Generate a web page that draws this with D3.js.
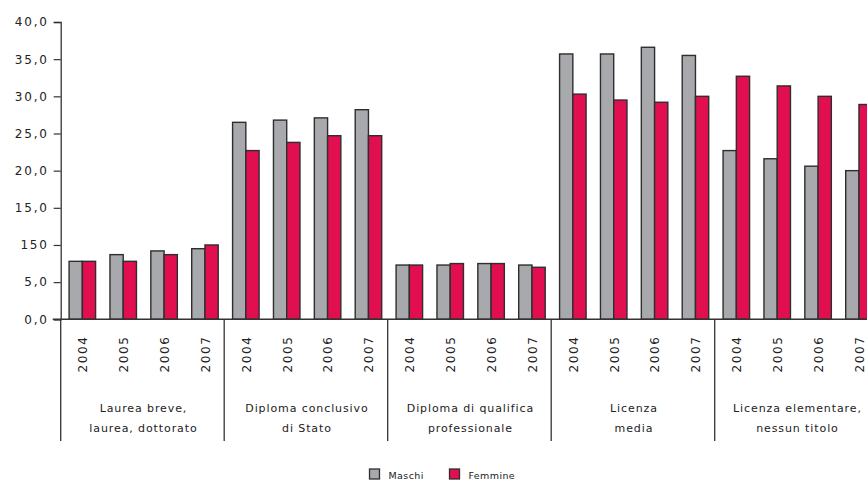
<!DOCTYPE html>
<html>
<head>
<meta charset="utf-8">
<script src="https://cdn.jsdelivr.net/npm/d3@7"></script>
<style>
  html, body { margin: 0; padding: 0; background: #fff; overflow: hidden; }
  svg { display: block; }
  text { font-family: "DejaVu Sans", sans-serif; fill: #222; }
</style>
</head>
<body>
<svg id="chart" width="867" height="483"></svg>
<script>
// Titolo di studio, quota percentuale per sesso e anno
const groups = [
  ["Laurea breve,", "laurea, dottorato"],
  ["Diploma conclusivo", "di Stato"],
  ["Diploma di qualifica", "professionale"],
  ["Licenza", "media"],
  ["Licenza elementare,", "nessun titolo"]
];
const years = ["2004", "2005", "2006", "2007"];
const series = ["Maschi", "Femmine"];
const maschi = [
  [7.8, 8.7, 9.2, 9.5],
  [26.5, 26.8, 27.1, 28.2],
  [7.3, 7.3, 7.5, 7.3],
  [35.7, 35.7, 36.6, 35.5],
  [22.7, 21.6, 20.6, 20.0]
];
const femmine = [
  [7.8, 7.8, 8.7, 10.0],
  [22.7, 23.8, 24.7, 24.7],
  [7.3, 7.5, 7.5, 7.0],
  [30.3, 29.5, 29.2, 30.0],
  [32.7, 31.4, 30.0, 28.9]
];
const yTicks = [0, 5, 10, 15, 20, 25, 30, 35, 40];
const yTickLabels = ["0,0", "5,0", "150", "15,0", "20,0", "25,0", "30,0", "35,0", "40,0"];

const colors = { Maschi: "#a7a9ac", Femmine: "#e20f50" };
const strokeCol = "#2e2e2e";

const svg = d3.select("#chart");
const plotLeft = 60.7, plotW = 817.5, plotTop = 22, base = 319.3;

const x0 = d3.scaleBand().domain(d3.range(groups.length)).range([plotLeft, plotLeft + plotW]);
const x1 = d3.scaleBand().domain(years).range([0, x0.bandwidth()]);
const xs = d3.scaleBand().domain(series).range([0, 26.5]);
const y = d3.scaleLinear().domain([0, 40]).range([base, plotTop]);

// y axis
const yAxis = d3.axisLeft(y)
  .tickValues(yTicks)
  .tickSize(7)
  .tickPadding(5)
  .tickFormat((d, i) => yTickLabels[i]);
const gy = svg.append("g").attr("transform", `translate(${plotLeft},0)`).call(yAxis);
gy.select(".domain").attr("stroke", "#333").attr("stroke-width", 1.3);
gy.selectAll(".tick line").attr("stroke", "#333").attr("stroke-width", 1.2);
gy.selectAll(".tick text")
  .style("font-size", "12px")
  .style("letter-spacing", "1.8px")
  .attr("fill", "#222");

// bars
const rows = [];
groups.forEach((g, gi) => {
  years.forEach((yr, yi) => {
    rows.push({ gi, yr, s: "Maschi", v: maschi[gi][yi] });
    rows.push({ gi, yr, s: "Femmine", v: femmine[gi][yi] });
  });
});
const pairOffset = (x1.bandwidth() - 26.5) / 2 + 1.2;
svg.append("g").selectAll("rect").data(rows).join("rect")
  .attr("x", d => x0(d.gi) + x1(d.yr) + pairOffset + xs(d.s))
  .attr("y", d => y(d.v))
  .attr("width", xs.bandwidth())
  .attr("height", d => base - y(d.v))
  .attr("fill", d => colors[d.s])
  .attr("stroke", strokeCol)
  .attr("stroke-width", 1.4);

// x baseline
svg.append("line")
  .attr("x1", plotLeft - 8).attr("x2", plotLeft + plotW)
  .attr("y1", base).attr("y2", base)
  .attr("stroke", "#333").attr("stroke-width", 1.4);

// group dividers
const bounds = d3.range(groups.length + 1).map(i => i < groups.length ? x0(i) : plotLeft + plotW);
svg.append("g").selectAll("line").data(bounds).join("line")
  .attr("x1", d => d).attr("x2", d => d)
  .attr("y1", base).attr("y2", 441)
  .attr("stroke", "#333").attr("stroke-width", 1.3);

// year labels (rotated)
const yearRows = [];
groups.forEach((g, gi) => years.forEach(yr => yearRows.push({ gi, yr })));
svg.append("g").selectAll("text").data(yearRows).join("text")
  .attr("transform", d => {
    const cx = x0(d.gi) + x1(d.yr) + x1.bandwidth() / 2 + 1.5;
    return `translate(${cx + 4.5},354) rotate(-90)`;
  })
  .attr("text-anchor", "middle")
  .style("font-size", "12px")
  .style("letter-spacing", "1.6px")
  .text(d => d.yr);

// group labels
const gl = svg.append("g").selectAll("text").data(groups).join("text")
  .attr("text-anchor", "middle")
  .style("font-size", "11px")
  .style("letter-spacing", "0.9px");
gl.each(function (d, i) {
  const cx = x0(i) + x0.bandwidth() / 2 + 1;
  d3.select(this).selectAll("tspan").data(d).join("tspan")
    .attr("x", cx)
    .attr("y", (t, j) => 412 + j * 20)
    .text(t => t);
});

// legend
const legendX = [369.5, 449.5];
const lg = svg.append("g").selectAll("g").data(series).join("g")
  .attr("transform", (d, i) => `translate(${legendX[i]},469)`);
lg.append("rect")
  .attr("width", 10).attr("height", 10)
  .attr("fill", d => colors[d])
  .attr("stroke", strokeCol).attr("stroke-width", 1.3);
lg.append("text")
  .attr("x", 19).attr("y", 9.5)
  .style("font-size", "9.5px")
  .style("letter-spacing", "0.4px")
  .text(d => d);
</script>
</body>
</html>
